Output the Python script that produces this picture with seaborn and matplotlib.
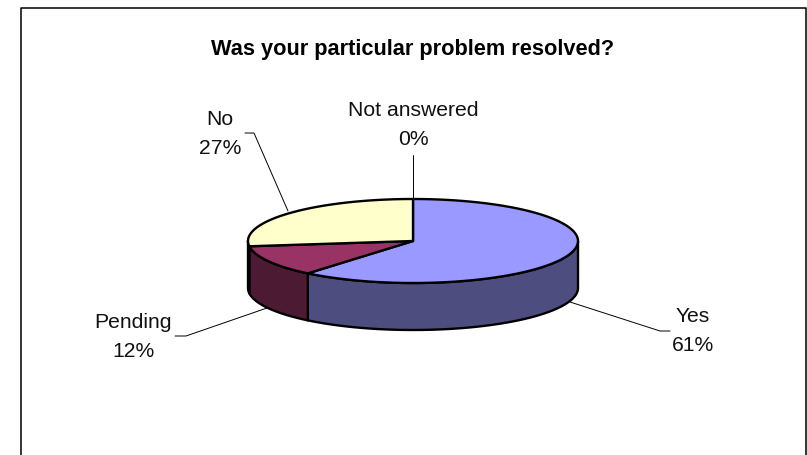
import numpy as np
import matplotlib
matplotlib.use('Agg')
import matplotlib.pyplot as plt
import seaborn as sns

labels = ['Yes', 'Pending', 'No', 'Not answered']
values = [61, 12, 27, 0]
top_colors = ['#9999FF', '#993366', '#FFFFCC', '#FFFFFF']
side_colors = ['#4D4D80', '#4D1A33', '#4D1A33', '#808080']

sns.set_theme(style='white')
plt.rcParams['font.family'] = ['Liberation Sans', 'DejaVu Sans']

W, H = 807, 456
CX, CY, RX, RY, DEPTH = 413, 242, 165, 42, 47

fig = plt.figure(figsize=(W / 100, H / 100), dpi=100)
ax = fig.add_axes([0, 0, 1, 1])
ax.set_xlim(0, W)
ax.set_ylim(H, 0)
ax.axis('off')

# frame, no line at the bottom
ax.plot([20.5, 20.5, 805.5, 805.5], [H, 9, 9, H], color='black', lw=1.1, zorder=1)

ax.text(412.5, 49, 'Was your particular problem resolved?', ha='center', va='center',
        fontsize=15.7, fontweight='bold', color='black')


def ell(t):
    return CX + RX * np.cos(t), CY - RY * np.sin(t)


# slice angles, clockwise from the top
edges = 90 - 3.6 * np.cumsum([0] + values)
for i in range(len(values)):
    if values[i] == 0:
        continue
    a0, a1 = edges[i], edges[i + 1]
    # side wall, only the front half of the rim shows
    lo, hi = max(a1, -180), min(a0, 0)
    if hi > lo:
        ts = np.radians(np.linspace(hi, lo, 120))
        sx, sy = ell(ts)
        ax.fill(np.r_[sx, sx[::-1]], np.r_[sy, sy[::-1] + DEPTH],
                facecolor=side_colors[i], edgecolor='black', lw=1.7, joinstyle='round', zorder=2)
for i in range(len(values)):
    if values[i] == 0:
        continue
    t = np.radians(np.linspace(edges[i], edges[i + 1], 120))
    x, y = ell(t)
    ax.fill(np.r_[CX, x], np.r_[CY, y], facecolor=top_colors[i], edgecolor='black',
            lw=1.7, joinstyle='round', zorder=3)

# leader lines
leaders = [
    ([570, 660, 670], [303, 332, 332]),
    ([267, 186, 175], [309, 337, 337]),
    ([288, 254, 245], [212, 134, 134]),
    ([413, 413], [200, 156]),
]
for lx, ly in leaders:
    ax.plot(lx, ly, color='black', lw=0.7, zorder=1.5)

label_pos = [(693, 331), (133, 337), (220, 134), (413, 125)]
for name, v, (px, py) in zip(labels, values, label_pos):
    ax.text(px, py, f'{name}\n{v}%', ha='center', va='center', fontsize=15.2,
            linespacing=1.63, color='#111111')

fig.savefig('out.png', dpi=100)
